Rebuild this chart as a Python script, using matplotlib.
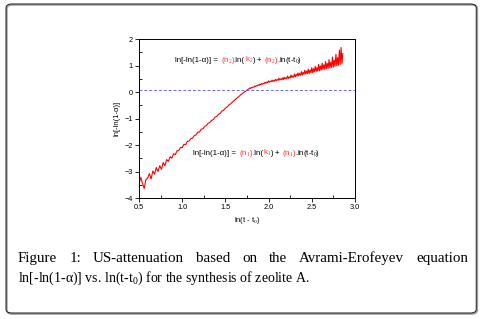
import matplotlib
matplotlib.use("Agg")
import matplotlib.pyplot as plt
import numpy as np
from matplotlib.patches import FancyBboxPatch
from matplotlib.transforms import offset_copy

plt.rcParams['font.family'] = ['Liberation Sans', 'DejaVu Sans']
plt.rcParams['mathtext.fontset'] = 'custom'
plt.rcParams['mathtext.rm'] = 'Liberation Serif'
plt.rcParams['mathtext.it'] = 'Liberation Serif:italic'

# ln(t-t0), first (steep) region, step 0.02
x_low = [0.50, 0.52, 0.54, 0.56, 0.58, 0.60, 0.62, 0.64, 0.66, 0.68,
         0.70, 0.72, 0.74, 0.76, 0.78, 0.80, 0.82, 0.84, 0.86, 0.88,
         0.90, 0.92, 0.94, 0.96, 0.98, 1.00, 1.02, 1.04, 1.06, 1.08,
         1.10, 1.12, 1.14, 1.16, 1.18, 1.20, 1.22, 1.24, 1.26, 1.28,
         1.30, 1.32, 1.34, 1.36, 1.38, 1.40, 1.42, 1.44, 1.46, 1.48,
         1.50, 1.52, 1.54, 1.56, 1.58, 1.60, 1.62, 1.64, 1.66, 1.68,
         1.70, 1.72, 1.74]
y_low = [-3.48, -3.22, -3.45, -3.64, -3.30, -3.25, -3.08, -3.28, -2.98, -3.10,
         -2.85, -3.00, -2.78, -2.92, -2.66, -2.78, -2.55, -2.62, -2.44, -2.50,
         -2.33, -2.36, -2.22, -2.21, -2.09, -2.10, -1.97, -1.99, -1.86, -1.85,
         -1.76, -1.74, -1.64, -1.62, -1.52, -1.51, -1.40, -1.39, -1.30, -1.27,
         -1.18, -1.15, -1.07, -1.04, -0.95, -0.92, -0.84, -0.81, -0.72, -0.69,
         -0.61, -0.57, -0.49, -0.45, -0.38, -0.33, -0.27, -0.21, -0.16, -0.10,
         -0.05, 0.00, 0.04]

# second (shallow) region, step 0.01
x_high = [1.75, 1.76, 1.77, 1.78, 1.79, 1.80, 1.81, 1.82, 1.83, 1.84,
          1.85, 1.86, 1.87, 1.88, 1.89, 1.90, 1.91, 1.92, 1.93, 1.94,
          1.95, 1.96, 1.97, 1.98, 1.99, 2.00, 2.01, 2.02, 2.03, 2.04,
          2.05, 2.06, 2.07, 2.08, 2.09, 2.10, 2.11, 2.12, 2.13, 2.14,
          2.15, 2.16, 2.17, 2.18, 2.19, 2.20, 2.21, 2.22, 2.23, 2.24,
          2.25, 2.26, 2.27, 2.28, 2.29, 2.30, 2.31, 2.32, 2.33, 2.34,
          2.35, 2.36, 2.37, 2.38, 2.39, 2.40, 2.41, 2.42, 2.43, 2.44,
          2.45, 2.46, 2.47, 2.48, 2.49, 2.50, 2.51, 2.52, 2.53, 2.54,
          2.55, 2.56, 2.57, 2.58, 2.59, 2.60, 2.61, 2.62, 2.63, 2.64,
          2.65, 2.66, 2.67, 2.68, 2.69, 2.70, 2.71, 2.72, 2.73, 2.74,
          2.75, 2.76, 2.77, 2.78, 2.79, 2.80, 2.81, 2.82, 2.83, 2.84,
          2.85, 2.86]
y_high = [0.07, 0.10, 0.11, 0.15, 0.13, 0.17, 0.16, 0.19, 0.18, 0.23,
          0.21, 0.24, 0.23, 0.27, 0.25, 0.30, 0.27, 0.32, 0.29, 0.33,
          0.32, 0.37, 0.33, 0.38, 0.35, 0.42, 0.37, 0.41, 0.39, 0.45,
          0.40, 0.44, 0.41, 0.48, 0.43, 0.47, 0.44, 0.52, 0.45, 0.50,
          0.47, 0.53, 0.46, 0.56, 0.49, 0.54, 0.50, 0.60, 0.51, 0.57,
          0.53, 0.64, 0.55, 0.61, 0.56, 0.68, 0.57, 0.66, 0.60, 0.72,
          0.61, 0.70, 0.63, 0.77, 0.64, 0.74, 0.67, 0.82, 0.68, 0.79,
          0.69, 0.86, 0.70, 0.83, 0.73, 0.92, 0.73, 0.88, 0.76, 0.97,
          0.77, 0.92, 0.79, 1.04, 0.80, 0.98, 0.83, 1.09, 0.84, 1.03,
          0.86, 1.15, 0.88, 1.08, 0.89, 1.22, 0.91, 1.12, 0.93, 1.32,
          0.94, 1.20, 0.97, 1.42, 0.99, 1.30, 1.01, 1.58, 1.04, 1.68,
          1.07, 1.45]

y_ref = 0.07  # dashed reference line

x_ticks = [0.5, 1.0, 1.5, 2.0, 2.5, 3.0]
y_ticks = [-4, -3, -2, -1, 0, 1, 2]

top_eq = [("ln[-ln(1-\u03b1)] = ", "black"), ("(n$_2$)", "#ff3030"), (".ln(", "black"),
          ("k$_2$", "#ff3030"), (") + ", "black"), ("(n$_2$)", "#ff3030"),
          (".ln(t-t$_0$)", "black")]
bot_eq = [("ln[-ln(1-\u03b1)] = ", "black"), ("(n$_1$)", "#ff3030"), (".ln(", "black"),
          ("k$_1$", "#ff3030"), (") + ", "black"), ("(n$_1$)", "#ff3030"),
          (".ln(t-t$_0$)", "black")]

caption1 = "Figure 1: US-attenuation based on the Avrami-Erofeyev equation"
caption2 = "ln[-ln(1-\u03b1)] vs. ln(t-t$_0$) for the synthesis of zeolite A."

fig = plt.figure(figsize=(4.83, 3.19), dpi=100)
ax = fig.add_axes([0.2878, 0.3793, 0.447, 0.4984])

ax.plot(x_low + x_high, y_low + y_high, color="red", lw=0.8)
ax.axhline(y_ref, color="#6a6aff", lw=0.7, ls=(0, (3, 2)))

ax.set_xlim(0.5, 3.0)
ax.set_ylim(-4, 2)
ax.set_xticks(x_ticks)
ax.set_xticklabels(["%.1f" % v for v in x_ticks])
ax.set_yticks(y_ticks)
ax.set_xticks(np.arange(0.75, 3.0, 0.5), minor=True)
ax.set_yticks(np.arange(-3.5, 2.0, 1.0), minor=True)
ax.tick_params(which="major", direction="out", length=3, width=0.6, labelsize=5.3, pad=1.5)
ax.tick_params(which="minor", direction="in", length=2, width=0.6)
for s in ax.spines.values():
    s.set_linewidth(0.7)
ax.set_xlabel("ln(t - t$_0$)", fontsize=5.5, labelpad=3)
ax.set_ylabel("ln[-ln(1-\u03b1)]", fontsize=5.5, labelpad=3)

fig.canvas.draw()
rend = fig.canvas.get_renderer()


def put_parts(x, y, parts, size):
    dx = 0
    for s, c in parts:
        tr = offset_copy(ax.transData, fig=fig, x=dx, y=0, units="dots")
        t = ax.text(x, y, s, color=c, transform=tr, va="baseline", ha="left", fontsize=size)
        dx += t.get_window_extent(rend).width
        if "$" in s:
            dx -= 1


put_parts(0.92, 1.13, top_eq, 5.7)
put_parts(1.13, -2.38, bot_eq, 5.7)

# caption, first line justified
words = caption1.split(" ")
x0, x1 = 18 / 483, 468 / 483
y1, y2 = 1 - 262 / 319, 1 - 282 / 319
tmp = [fig.text(0, 0, w, fontsize=10.8, family="Liberation Serif") for w in words]
widths = [t.get_window_extent(rend).width / 483 for t in tmp]
for t in tmp:
    t.remove()
gap = (x1 - x0 - sum(widths)) / (len(words) - 1)
xp = x0
for w, wd in zip(words, widths):
    fig.text(xp, y1, w, fontsize=10.8, family="Liberation Serif", va="baseline")
    xp += wd + gap
fig.text(x0, y2, caption2, fontsize=10.0, family="Liberation Serif", va="baseline")

# rounded frame with a soft shadow on the lower right
shadow = FancyBboxPatch((0.0140, 0.0160), 0.9740, 0.9690, boxstyle="round,pad=0,rounding_size=0.012",
                        transform=fig.transFigure, fill=False, ec="#a0a0a0", lw=1.4)
frame = FancyBboxPatch((0.0125, 0.0188), 0.9735, 0.9687, boxstyle="round,pad=0,rounding_size=0.012",
                       transform=fig.transFigure, fill=False, ec="#222222", lw=0.7)
fig.patches.extend([shadow, frame])

fig.savefig("out.png", dpi=100)
